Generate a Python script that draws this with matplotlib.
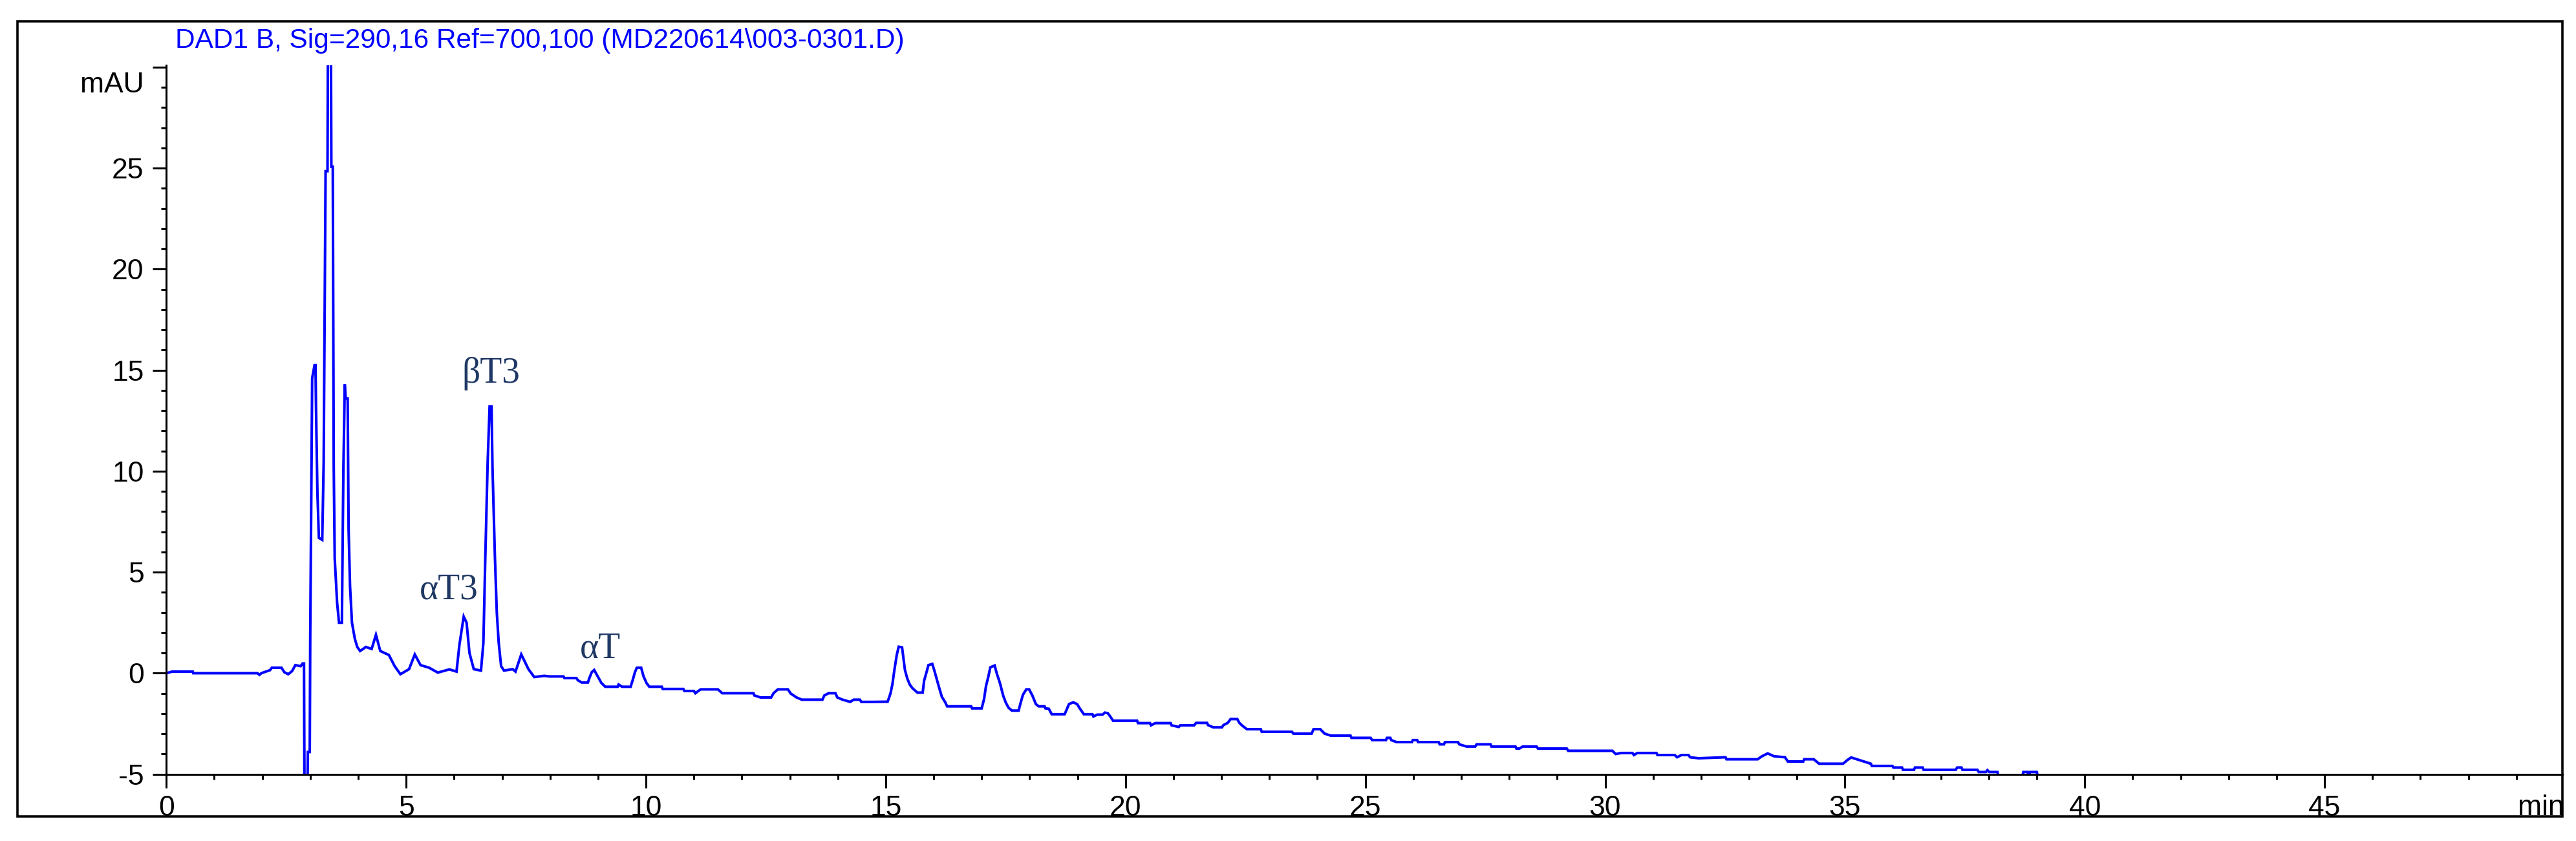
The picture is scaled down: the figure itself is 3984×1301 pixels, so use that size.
import matplotlib
matplotlib.use("Agg")
import matplotlib.pyplot as plt
from matplotlib.patches import Rectangle
from matplotlib.ticker import MultipleLocator, FixedLocator

# ---------------- data ----------------
time_min = [
    0.00, 0.12, 0.55, 0.56, 1.90, 1.94, 1.98, 2.16, 2.20, 2.40, 2.46, 2.54, 2.62, 2.69, 2.80, 2.84,
    2.87, 2.88, 2.94, 2.95, 2.99, 3.00, 3.04, 3.09, 3.11, 3.12, 3.15, 3.18, 3.25, 3.28, 3.32, 3.36,
    3.37, 3.43, 3.44, 3.47, 3.49, 3.51, 3.56, 3.60, 3.66, 3.69, 3.72, 3.74, 3.78, 3.80, 3.83, 3.87,
    3.93, 3.98, 4.04, 4.16, 4.28, 4.37, 4.46, 4.64, 4.76, 4.88, 5.06, 5.18, 5.30, 5.48, 5.66, 5.90,
    6.05, 6.11, 6.20, 6.26, 6.32, 6.41, 6.56, 6.61, 6.65, 6.70, 6.74, 6.78, 6.80, 6.85, 6.89, 6.93,
    6.98, 7.04, 7.22, 7.28, 7.40, 7.55, 7.67, 7.88,
    7.99, 8.28, 8.30, 8.55, 8.58, 8.66, 8.79, 8.82, 8.87, 8.92, 8.99, 9.07, 9.15, 9.41, 9.43, 9.50,
    9.68, 9.72, 9.77, 9.81, 9.90, 9.95, 10.01, 10.07, 10.33, 10.35, 10.78, 10.80, 11.00, 11.03, 11.14,
    11.50, 11.59, 12.24, 12.26, 12.39, 12.61, 12.66, 12.75, 12.96, 13.02, 13.14, 13.25, 13.68, 13.72,
    13.81, 13.95, 13.99, 14.10, 14.26, 14.33, 14.46, 14.49, 14.73,
    15.04, 15.10, 15.14, 15.18, 15.23, 15.27, 15.34, 15.36, 15.40, 15.45, 15.50, 15.56, 15.66, 15.77,
    15.80, 15.85, 15.89, 15.97, 16.01, 16.06, 16.11, 16.17, 16.24, 16.28, 16.78, 16.80, 17.00, 17.05,
    17.09, 17.14, 17.18, 17.27, 17.32, 17.38, 17.45, 17.50, 17.56, 17.63, 17.77, 17.81, 17.86, 17.93,
    17.99, 18.06, 18.13, 18.19, 18.31, 18.33, 18.40, 18.46, 18.73, 18.78, 18.82, 18.91, 18.99, 19.05,
    19.13, 19.31, 19.33, 19.41, 19.52, 19.57, 19.63, 19.68, 19.74, 20.24, 20.26, 20.51, 20.53, 20.62,
    20.94, 20.96, 21.11, 21.14, 21.43, 21.47,
    21.70, 21.72, 21.83, 22.01, 22.04, 22.13, 22.19, 22.33, 22.37, 22.44, 22.53, 22.82, 22.84, 23.47,
    23.50, 23.88, 23.92, 24.06, 24.15, 24.28, 24.69, 24.71, 25.11, 25.14, 25.43, 25.45, 25.52, 25.54,
    25.65, 25.97, 25.99, 26.08, 26.10, 26.53, 26.55, 26.64, 26.66, 26.93, 26.96, 27.11, 27.29, 27.32,
    27.61, 27.63, 28.13, 28.15, 28.21,
    28.28, 28.57, 28.60, 29.20, 29.23, 30.15, 30.22, 30.33, 30.57, 30.60, 30.67, 31.07, 31.09, 31.45,
    31.50, 31.59, 31.74, 31.77, 31.95, 32.51, 32.53, 33.18, 33.27, 33.39, 33.52, 33.75, 33.81, 34.13,
    34.15, 34.35, 34.46, 34.96,
    35.05, 35.13, 35.25, 35.40, 35.54, 35.56, 35.99, 36.01, 36.19, 36.21, 36.44, 36.46, 36.62, 36.64,
    37.31, 37.34, 37.43, 37.45, 37.76, 37.79, 37.94, 37.97, 38.01, 38.18, 38.20, 38.70, 38.72, 38.81,
    38.83, 38.86, 39.00, 39.02, 39.10,
]
signal_mAU = [
    0.00, 0.08, 0.08, 0.00, 0.00, -0.08, 0.00, 0.15, 0.27, 0.27, 0.05, -0.05, 0.10, 0.40, 0.35, 0.48,
    0.48, -6.00, -6.00, -3.90, -3.90, 1.90, 14.60, 15.25, 15.25, 13.20, 8.90, 6.70, 6.60, 10.40, 24.85, 24.85,
    32.00, 32.00, 25.07, 25.07, 10.20, 5.70, 3.50, 2.50, 2.50, 9.90, 14.30, 13.60, 13.60, 7.10, 4.30, 2.50,
    1.70, 1.30, 1.10, 1.30, 1.20, 1.90, 1.10, 0.90, 0.35, -0.05, 0.20, 0.93, 0.40, 0.27, 0.03, 0.19,
    0.08, 1.40, 2.80, 2.50, 1.00, 0.20, 0.13, 1.50, 5.70, 10.50, 13.20, 13.20, 10.20, 5.80, 3.00, 1.50,
    0.35, 0.13, 0.20, 0.08, 0.93, 0.20, -0.19, -0.13,
    -0.16, -0.16, -0.24, -0.24, -0.35, -0.46, -0.46, -0.24, 0.05, 0.16, -0.14, -0.48, -0.67, -0.67, -0.56, -0.67,
    -0.67, -0.37, 0.05, 0.27, 0.27, -0.16, -0.48, -0.67, -0.67, -0.78, -0.78, -0.88, -0.88, -0.99, -0.80,
    -0.80, -0.99, -0.99, -1.10, -1.20, -1.20, -0.99, -0.80, -0.80, -1.01, -1.20, -1.31, -1.31, -1.10,
    -0.99, -0.99, -1.20, -1.31, -1.42, -1.31, -1.31, -1.42, -1.42,
    -1.41, -0.99, -0.53, 0.16, 0.91, 1.31, 1.28, 0.91, 0.16, -0.27, -0.56, -0.75, -0.96, -0.96,
    -0.37, 0.05, 0.40, 0.46, 0.16, -0.27, -0.69, -1.17, -1.44, -1.64, -1.64, -1.74, -1.74, -1.28,
    -0.64, -0.16, 0.29, 0.38, -0.05, -0.48, -1.12, -1.44, -1.71, -1.85, -1.85, -1.49, -1.07, -0.80,
    -0.80, -1.12, -1.53, -1.64, -1.64, -1.74, -1.76, -2.03, -2.03, -1.76, -1.53, -1.44, -1.53, -1.76,
    -2.03, -2.03, -2.14, -2.05, -2.05, -1.95, -1.98, -2.14, -2.35, -2.35, -2.47, -2.47, -2.58, -2.47,
    -2.47, -2.58, -2.66, -2.58, -2.58, -2.46,
    -2.46, -2.57, -2.68, -2.68, -2.57, -2.46, -2.27, -2.27, -2.45, -2.61, -2.77, -2.77, -2.90, -2.90,
    -2.99, -2.99, -2.77, -2.77, -2.99, -3.09, -3.09, -3.20, -3.20, -3.31, -3.31, -3.20, -3.20, -3.31,
    -3.41, -3.41, -3.31, -3.31, -3.41, -3.41, -3.52, -3.52, -3.41, -3.41, -3.52, -3.63, -3.63, -3.52,
    -3.52, -3.63, -3.63, -3.73, -3.73,
    -3.63, -3.63, -3.73, -3.73, -3.84, -3.84, -4.00, -3.95, -3.95, -4.05, -3.95, -3.95, -4.05, -4.05,
    -4.16, -4.05, -4.05, -4.16, -4.21, -4.16, -4.26, -4.26, -4.11, -3.97, -4.11, -4.16, -4.37, -4.37,
    -4.26, -4.26, -4.48, -4.48,
    -4.30, -4.17, -4.26, -4.37, -4.48, -4.59, -4.59, -4.67, -4.67, -4.78, -4.78, -4.67, -4.67, -4.78,
    -4.78, -4.67, -4.67, -4.78, -4.78, -4.89, -4.89, -4.80, -4.89, -4.89, -5.10, -5.10, -4.89, -4.89,
    -5.10, -4.89, -4.89, -5.10, -5.10,
]

peak_labels = ["\u03b1T3", "\u03b2T3", "\u03b1T"]
peak_label_time = [5.89, 6.77, 9.05]
peak_label_level = [3.67, 14.39, 0.75]

x_limits = (0, 49.96)
y_limits = (-5, 30.09)
x_major_ticks = [0, 5, 10, 15, 20, 25, 30, 35, 40, 45]
y_major_ticks = [-5, 0, 5, 10, 15, 20, 25, 30]
y_tick_labels = ["-5", "0", "5", "10", "15", "20", "25", ""]

title_text = "DAD1 B, Sig=290,16 Ref=700,100 (MD220614\\003-0301.D)"

# ---------------- figure ----------------
W, H = 3984, 1301
DPI = 100
fig = plt.figure(figsize=(W / DPI, H / DPI), dpi=DPI)
fig.patch.set_facecolor("white")

sans = ["Liberation Sans Narrow", "Liberation Sans", "DejaVu Sans"]
serif = ["Liberation Serif", "DejaVu Serif"]

def fx(px):
    return px / W

def fy(py):
    return 1 - py / H

ax_left, ax_right, ax_top, ax_bottom = 257.3, 3963.0, 101.0, 1197.7
ax = fig.add_axes([fx(ax_left), fy(ax_bottom), fx(ax_right) - fx(ax_left), fy(ax_top) - fy(ax_bottom)])
ax.set_facecolor("white")

ax.plot(time_min, signal_mAU, color="#0000FF", lw=2.9, solid_joinstyle="miter", zorder=3)

ax.set_xlim(*x_limits)
ax.set_ylim(*y_limits)

for s in ["top", "right"]:
    ax.spines[s].set_visible(False)
for s in ["left", "bottom"]:
    ax.spines[s].set_linewidth(2.2)
    ax.spines[s].set_color("black")
    ax.spines[s].set_zorder(4)

ax.xaxis.set_major_locator(FixedLocator(x_major_ticks))
ax.xaxis.set_minor_locator(MultipleLocator(1))
ax.yaxis.set_major_locator(FixedLocator(y_major_ticks))
ax.yaxis.set_minor_locator(MultipleLocator(1))
ax.set_yticklabels(y_tick_labels)
ax.set_xticklabels([str(v) for v in x_major_ticks])

ax.tick_params(which="major", direction="out", length=15, width=2.2, color="black", pad=8)
ax.tick_params(which="minor", direction="out", length=5.5, width=2.2, color="black")
ax.tick_params(axis="y", which="major", pad=10)
for lab in ax.get_xticklabels() + ax.get_yticklabels():
    lab.set_fontfamily(sans)
    lab.set_fontsize(32)
    lab.set_color("black")

# peak labels
for name, tx, ty in zip(peak_labels, peak_label_time, peak_label_level):
    ax.text(tx, ty, name, ha="center", va="baseline", fontsize=40,
            family=serif, color="#1F3864", zorder=5)

# title, axis unit labels
fig.text(fx(271), fy(74), title_text, ha="left", va="baseline", fontsize=30.5,
         family=sans, color="#0000FF")
fig.text(fx(223), fy(143), "mAU", ha="right", va="baseline", fontsize=32,
         family=sans, color="black")
fig.text(fx(3966), fy(1261), "min", ha="right", va="baseline", fontsize=32,
         family=sans, color="black")

# outer frame
frame = Rectangle((fx(27), fy(1263)), fx(3963) - fx(27), fy(33) - fy(1263),
                  transform=fig.transFigure, fill=False, lw=2.6, edgecolor="black", zorder=10)
fig.patches.append(frame)

fig.savefig("out.png", dpi=DPI, facecolor="white")
